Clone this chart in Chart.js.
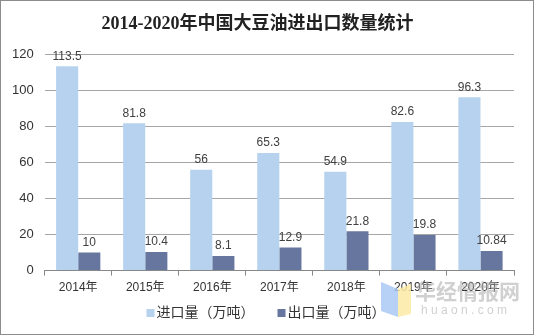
<!DOCTYPE html>
<html>
<head>
<meta charset="utf-8">
<script src="https://cdn.jsdelivr.net/npm/chart.js@4"></script>
<style>
  html, body { margin: 0; padding: 0; background: #fff; }
  #wrap { position: relative; width: 532px; height: 333px; border: 1px solid #8c8c8c; }
</style>
</head>
<body>
<div id="wrap"><canvas id="chart" width="532" height="333"></canvas></div>
<script>
// dades
const years = ['2014年', '2015年', '2016年', '2017年', '2018年', '2019年', '2020年'];
const importVals = [113.5, 81.8, 56, 65.3, 54.9, 82.6, 96.3];
const exportVals = [10, 10.4, 8.1, 12.9, 21.8, 19.8, 10.84];
const seriesNames = ['进口量（万吨）', '出口量（万吨）'];
const colors = ['#b7d2ef', '#66769e'];

const cjk = '"Liberation Sans", Arial, "Noto Sans CJK SC", sans-serif';

// etiquetes sobre les barres
const valueLabels = {
  id: 'valueLabels',
  afterDatasetsDraw(chart) {
    const ctx = chart.ctx;
    ctx.save();
    ctx.font = '12px ' + cjk;
    ctx.fillStyle = '#404040';
    ctx.textAlign = 'center';
    ctx.textBaseline = 'bottom';
    chart.data.datasets.forEach((ds, i) => {
      chart.getDatasetMeta(i).data.forEach((bar, j) => {
        ctx.fillText(String(ds.data[j]), bar.x, bar.y - 4);
      });
    });
    ctx.restore();
  }
};

// llegenda a mida, centrada com a l'original
const bottomLegend = {
  id: 'bottomLegend',
  afterDraw(chart) {
    const ctx = chart.ctx;
    const ds = chart.data.datasets;
    ctx.save();
    ctx.font = '14px ' + cjk;
    ctx.textBaseline = 'middle';
    const box = 8, gap = 2, between = 23;
    const widths = ds.map(d => ctx.measureText(d.label).width);
    let total = widths.reduce((a, w) => a + box + gap + w, 0) + between * (ds.length - 1);
    let x = 265 - total / 2;
    const y = 312;
    ds.forEach((d, i) => {
      ctx.fillStyle = d.backgroundColor;
      ctx.fillRect(x, y - box / 2, box, box);
      ctx.fillStyle = '#333';
      ctx.fillText(d.label, x + box + gap, y);
      x += box + gap + widths[i] + between;
    });
    ctx.restore();
  }
};

// marca d'aigua
const watermark = {
  id: 'watermark',
  afterDraw(chart) {
    const ctx = chart.ctx;
    ctx.save();
    ctx.globalAlpha = 0.85;
    ctx.fillStyle = '#a9c8f5';
    ctx.beginPath();
    ctx.moveTo(380, 281); ctx.lineTo(397, 288); ctx.lineTo(397, 316); ctx.lineTo(380, 310);
    ctx.closePath(); ctx.fill();
    ctx.fillStyle = '#fbeaa6';
    ctx.beginPath();
    ctx.moveTo(397, 288); ctx.lineTo(410, 283); ctx.lineTo(410, 313); ctx.lineTo(397, 316);
    ctx.closePath(); ctx.fill();
    ctx.globalAlpha = 0.6;
    ctx.fillStyle = '#b0b0b0';
    ctx.font = 'bold 21px "Noto Sans CJK SC", sans-serif';
    ctx.textAlign = 'left';
    ctx.textBaseline = 'middle';
    ctx.fillText('华经情报网', 414, 290);
    ctx.font = '12px "Liberation Sans", sans-serif';
    ctx.fillText('h u a o n . c o m', 420, 310);
    ctx.restore();
  }
};

new Chart(document.getElementById('chart'), {
  type: 'bar',
  data: {
    labels: years,
    datasets: [
      { label: seriesNames[0], data: importVals, backgroundColor: colors[0] },
      { label: seriesNames[1], data: exportVals, backgroundColor: colors[1] }
    ]
  },
  options: {
    responsive: false,
    animation: false,
    layout: { padding: { left: 0, right: 19, top: 4, bottom: 34 } },
    datasets: { bar: { categoryPercentage: 0.66, barPercentage: 1.0 } },
    scales: {
      x: {
        grid: { display: true, drawOnChartArea: false, offset: true, tickLength: 5, color: '#888' },
        border: { display: true, color: '#888' },
        ticks: { color: '#333', font: { size: 12, family: cjk }, padding: 5 }
      },
      y: {
        min: 0, max: 120,
        ticks: { stepSize: 20, color: '#333', font: { size: 13, family: cjk }, padding: 11 },
        grid: { color: '#a6a6a6', drawTicks: false },
        border: { display: false }
      }
    },
    plugins: {
      title: {
        display: true,
        text: '2014-2020年中国大豆油进出口数量统计',
        color: '#222',
        font: { size: 18, weight: 'bold', family: '"Liberation Serif", "Noto Sans CJK SC", serif' },
        padding: { top: 9, bottom: 19 }
      },
      legend: { display: false },
      tooltip: { enabled: false }
    }
  },
  plugins: [valueLabels, bottomLegend, watermark]
});
</script>
</body>
</html>
